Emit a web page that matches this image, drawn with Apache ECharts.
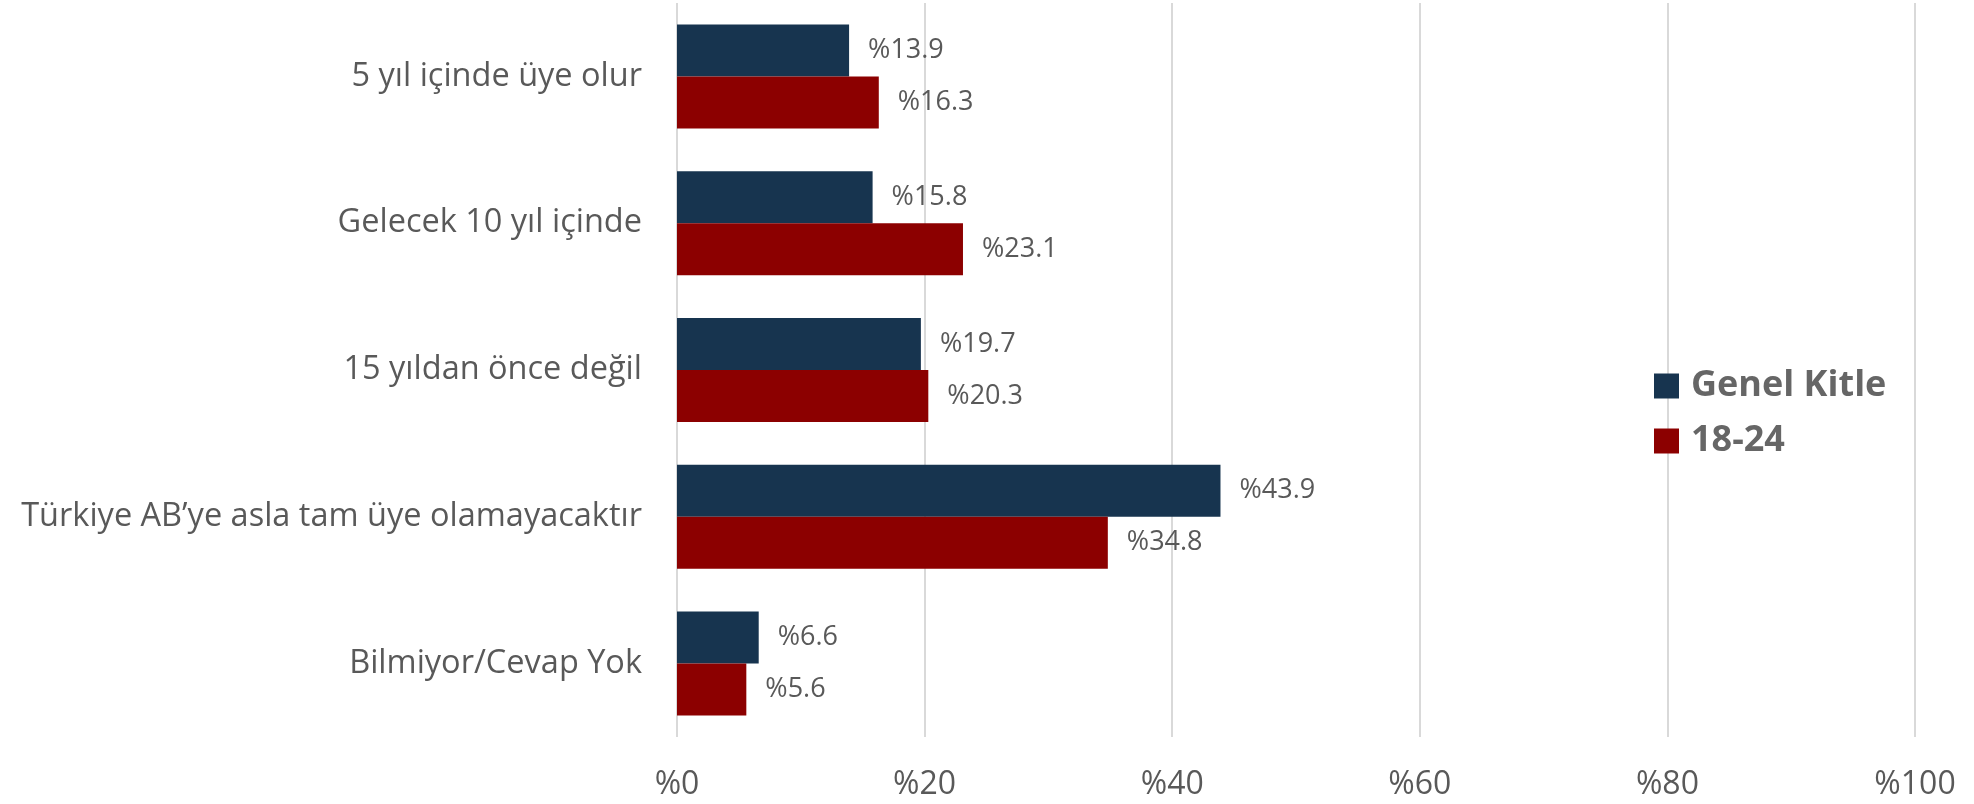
<!DOCTYPE html>
<html>
<head>
<meta charset="utf-8">
<script src="https://cdn.jsdelivr.net/npm/echarts@6/dist/echarts.min.js"></script>
<style>
  html, body { margin: 0; padding: 0; background: #ffffff; }
  #chart { width: 1974px; height: 804px; }
</style>
</head>
<body>
<div id="chart"></div>
<script>
const categories = ['5 yıl içinde üye olur', 'Gelecek 10 yıl içinde', '15 yıldan önce değil', 'Türkiye AB’ye asla tam üye olamayacaktır', 'Bilmiyor/Cevap Yok'];
const seriesNames = ['Genel Kitle', '18-24'];
const genelKitle = [13.9, 15.8, 19.7, 43.9, 6.6];
const genc1824 = [16.3, 23.1, 20.3, 34.8, 5.6];
const xTicks = { min: 0, max: 100, interval: 20 };

const FONT = "'Open Sans', 'Noto Sans', sans-serif";
const chart = echarts.init(document.getElementById('chart'), null, { renderer: 'canvas' });

const labelStyle = {
  show: true,
  position: 'right',
  distance: 19,
  fontFamily: FONT,
  fontSize: 27,
  color: '#595959',
  formatter: p => '%' + p.value.toFixed(1)
};

chart.setOption({
  animation: false,
  backgroundColor: '#ffffff',
  grid: { left: 677, right: 59, top: 3, bottom: 67, containLabel: false },
  legend: {
    orient: 'vertical',
    left: 1649,
    top: 363,
    itemWidth: 25,
    itemHeight: 25,
    itemGap: 19,
    icon: 'rect',
    textStyle: { fontFamily: FONT, fontSize: 36, fontWeight: 'bold', color: '#666666', lineHeight: 36, padding: [0, 0, 0, 7] },
    data: seriesNames
  },
  xAxis: {
    type: 'value',
    min: xTicks.min,
    max: xTicks.max,
    interval: xTicks.interval,
    axisLine: { show: false },
    axisTick: { show: false },
    splitLine: { show: true, lineStyle: { color: '#d9d9d9', width: 2 } },
    axisLabel: { fontFamily: FONT, fontSize: 32, color: '#595959', margin: 32, formatter: v => '%' + v }
  },
  yAxis: {
    type: 'category',
    inverse: true,
    data: categories,
    axisLine: { show: false },
    axisTick: { show: false },
    axisLabel: { fontFamily: FONT, fontSize: 32.5, color: '#595959', margin: 35 }
  },
  series: [
    {
      name: seriesNames[0], type: 'bar', data: genelKitle, barWidth: 52, barGap: '0%',
      itemStyle: { color: '#17344F' }, label: labelStyle
    },
    {
      name: seriesNames[1], type: 'bar', data: genc1824, barWidth: 52, barGap: '0%',
      itemStyle: { color: '#8C0000' }, label: labelStyle
    }
  ]
});
</script>
</body>
</html>
